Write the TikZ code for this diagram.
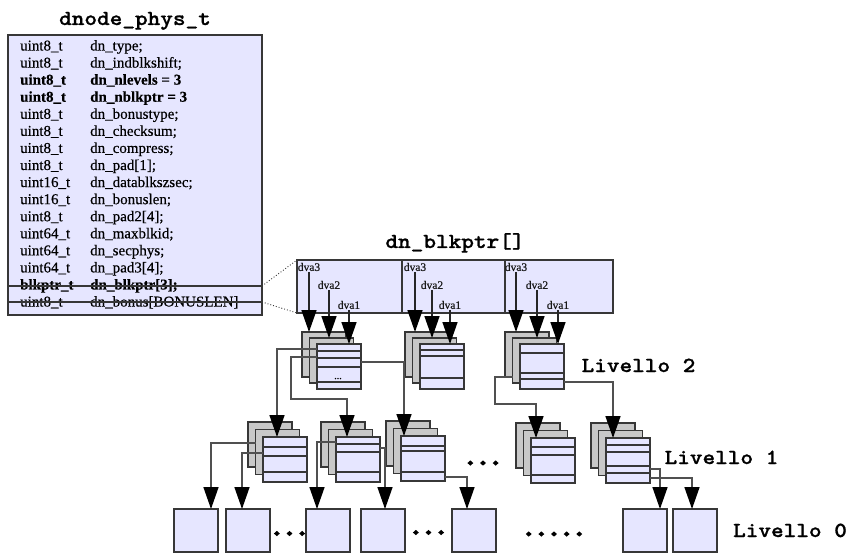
\documentclass[tikz,border=0pt]{standalone}
\usepackage{fontspec}
\setmainfont{Liberation Serif}[FakeBold=0.4]
\newfontfamily\headfont{lmmonolt10-bold.otf}[FakeStretch=1.12, FakeBold=1]
\newfontfamily\dotfont{lmmonolt10-bold.otf}[FakeStretch=1.12, FakeBold=8]
\usetikzlibrary{arrows.meta}

\definecolor{lav}{RGB}{230,230,255}
\definecolor{sheetgr}{RGB}{200,200,200}
\definecolor{edge}{RGB}{55,55,55}
\definecolor{wire}{RGB}{80,80,80}

\tikzset{
  sheetback/.style={draw=edge, fill=sheetgr, line width=1.2pt, minimum width=44pt,
    minimum height=45pt, inner sep=0pt, outer sep=0pt, anchor=north west},
  sheetfront/.style={sheetback, fill=lav},
  leaf/.style={draw=edge, fill=lav, line width=1.2pt, minimum width=44pt,
    minimum height=43pt, inner sep=0pt, outer sep=0pt, anchor=north west},
  cell/.style={draw=edge, fill=lav, line width=1.2pt, minimum height=53pt,
    inner sep=0pt, outer sep=0pt, anchor=north west},
  bigtip/.style={-{Triangle[width=15pt,length=22pt,color=black]}},
  conn/.style={draw=wire, line width=1.5pt, bigtip},
  dvaarrow/.style={draw=black!85, line width=1.5pt, bigtip},
  heading/.style={font=\headfont\fontsize{21.5}{24}\selectfont, inner sep=0pt, anchor=base},
  dotrow/.style={font=\dotfont\fontsize{21.5}{24}\selectfont, inner sep=0pt, anchor=base},
  fieldtxt/.style={font=\fontsize{15}{15}\selectfont, anchor=base west, inner sep=0pt, text=black},
  dvatxt/.style={font=\fontsize{11.5}{12}\selectfont, inner sep=1pt, text=black!90},
  rowline/.style={draw=edge, line width=1.2pt},
  linkline/.style={draw=edge, dotted, line width=0.9pt},
}

% a stack of three sheets: back, middle and front (front gets the plain name)
\newcommand\pstack[4]{%
  \node[sheetback] (#1b) at (#2,#3) {};
  \node[sheetback] (#1m) at ({#2+7.5},{#3+#4}) {};
  \node[sheetfront] (#1) at ({#2+15},{#3+2*#4}) {};
}
% horizontal rules across a front sheet, offsets from its top edge
\newcommand\slines[2]{%
  \foreach \o in {#2}
    \draw[rowline] ([yshift=-\o pt]#1.north west) -- ([yshift=-\o pt]#1.north east);
}
% one field of the structure
\newcommand\fieldrow[4]{%
  \node[fieldtxt] (#4t) at (20,{50.5+(#1-1)*17.07}) {#2};
  \node[fieldtxt] (#4n) at (90,{50.5+(#1-1)*17.07}) {#3};
}

\begin{document}
\begin{tikzpicture}[x=1pt,y=-1pt]
\useasboundingbox (0,0) rectangle (851,553);

% ---------- dnode_phys_t ----------
\node[heading] (ttl) at (135,25) {dnode\_phys\_t};
\node[draw=edge, fill=lav, line width=1.2pt, minimum width=254pt, minimum height=280pt,
      inner sep=0pt, outer sep=0pt, anchor=north west] (dnode) at (8,35) {};
\fieldrow{1}{uint8\_t}{dn\_type;}{f1}
\fieldrow{2}{uint8\_t}{dn\_indblkshift;}{f2}
\fieldrow{3}{\bfseries uint8\_t}{\bfseries dn\_nlevels = 3}{f3}
\fieldrow{4}{\bfseries uint8\_t}{\bfseries dn\_nblkptr = 3}{f4}
\fieldrow{5}{uint8\_t}{dn\_bonustype;}{f5}
\fieldrow{6}{uint8\_t}{dn\_checksum;}{f6}
\fieldrow{7}{uint8\_t}{dn\_compress;}{f7}
\fieldrow{8}{uint8\_t}{dn\_pad[1];}{f8}
\fieldrow{9}{uint16\_t}{dn\_datablkszsec;}{f9}
\fieldrow{10}{uint16\_t}{dn\_bonuslen;}{f10}
\fieldrow{11}{uint8\_t}{dn\_pad2[4];}{f11}
\fieldrow{12}{uint64\_t}{dn\_maxblkid;}{f12}
\fieldrow{13}{uint64\_t}{dn\_secphys;}{f13}
\fieldrow{14}{uint64\_t}{dn\_pad3[4];}{f14}
\fieldrow{15}{\bfseries blkptr\_t}{\bfseries dn\_blkptr[3];}{f15}
\fieldrow{16}{uint8\_t}{dn\_bonus[BONUSLEN]}{f16}
\coordinate (bprow) at (135,286);
\coordinate (bnrow) at (135,302);
\draw[rowline] (dnode.west |- bprow) -- (dnode.east |- bprow);
\draw[rowline] (dnode.west |- bnrow) -- (dnode.east |- bnrow);

% ---------- dn_blkptr[] ----------
\node[heading] (ttl2) at (455,248) {dn\_blkptr[]};
\node[cell, minimum width=105pt] (bp1) at (297,260) {};
\node[cell, minimum width=103pt] (bp2) at (402,260) {};
\node[cell, minimum width=108pt] (bp3) at (505,260) {};
\draw[linkline] (dnode.east |- bprow) -- (bp1.north west);
\draw[linkline] (dnode.east |- bnrow) -- (bp1.south west);

% ---------- level 2 ----------
\pstack{A}{302}{332}{6}
\slines{A}{7,14,23,38}
\node[font=\fontsize{10}{10}\selectfont, inner sep=0pt, anchor=base] (Adots) at (338,379) {...};
\pstack{B}{405}{332}{6}
\slines{B}{6,12,34}
\pstack{C}{505}{332}{6}
\slines{C}{9,29,35}
\node[heading] (lv2) at (638.5,372) {Livello 2};

% dva pointers
\node[dvatxt] (d11) at (309,267) {dva3};
\node[dvatxt] (d12) at (329,285) {dva2};
\node[dvatxt] (d13) at (349,305) {dva1};
\node[dvatxt] (d21) at (415,267) {dva3};
\node[dvatxt] (d22) at (432,285) {dva2};
\node[dvatxt] (d23) at (450,305) {dva1};
\node[dvatxt] (d31) at (516,267) {dva3};
\node[dvatxt] (d32) at (537,285) {dva2};
\node[dvatxt] (d33) at (558,305) {dva1};
\draw[dvaarrow] (d11.south) -- (d11.south |- Ab.north);
\draw[dvaarrow] (d12.south) -- (d12.south |- Am.north);
\draw[dvaarrow] (d13.south) -- (d13.south |- A.north);
\draw[dvaarrow] (d21.south) -- (d21.south |- Bb.north);
\draw[dvaarrow] (d22.south) -- (d22.south |- Bm.north);
\draw[dvaarrow] (d23.south) -- (d23.south |- B.north);
\draw[dvaarrow] (d31.south) -- (d31.south |- Cb.north);
\draw[dvaarrow] (d32.south) -- (d32.south |- Cm.north);
\draw[dvaarrow] (d33.south) -- (d33.south |- C.north);

% ---------- level 1 ----------
\pstack{E1}{248}{422}{7.5}
\slines{E1}{10,19,35}
\pstack{E2}{321}{422}{7.5}
\slines{E2}{7,15,35}
\pstack{E3}{386}{421}{7.5}
\slines{E3}{10,15,36}
\pstack{E4}{516}{423}{7.5}
\slines{E4}{9,17,37}
\pstack{E5}{591}{423}{7.5}
\slines{E5}{7,14,28,35}
\node[dotrow] (dots1) at (483,464.5) {...};
\node[heading] (lv1) at (721.5,464) {Livello 1};

% level 2 -> level 1
\draw[conn] ([yshift=-5pt]A.north west) -| ([xshift=14pt]E1.north west);
\draw[conn] ([yshift=-13pt]A.north west) -| (291,399) -| ([xshift=11pt]E2.north west);
\draw[conn] ([yshift=-18pt]A.north east) -| ([xshift=3pt]E3.north west);
\draw[conn] ([yshift=-39pt]Cm.north west) -| (495,404) -| ([xshift=5pt]E4.north west);
\draw[conn] ([yshift=-38pt]C.north east) -| ([xshift=7pt]E5.north west);

% ---------- level 0 ----------
\node[leaf] (L1) at (174,509) {};
\node[leaf] (L2) at (226,509) {};
\node[leaf] (L3) at (306,509) {};
\node[leaf] (L4) at (361,509) {};
\node[leaf] (L5) at (452,509) {};
\node[leaf] (L6) at (623,509) {};
\node[leaf] (L7) at (673,509) {};
\node[dotrow] (dots2) at (289.5,535) {...};
\node[dotrow] (dots3) at (428.5,534) {...};
\node[dotrow] (dots4) at (554,535.5) {.....};
\node[heading] (lv0) at (790,537) {Livello 0};

% level 1 -> level 0
\draw[conn] ([yshift=-13.5pt]E1m.north west) -| ([xshift=37pt]L1.north west);
\draw[conn] ([yshift=-16pt]E1.north west) -| ([xshift=16pt]L2.north west);
\draw[conn] ([yshift=-5pt]E2.north west) -| ([xshift=11pt]L3.north west);
\draw[conn] ([yshift=-11pt]E2.north east) -| ([xshift=24pt]L4.north west);
\draw[conn] ([yshift=-41pt]E3.north east) -| ([xshift=15pt]L5.north west);
\draw[conn] ([yshift=-31pt]E5.north east) -| ([xshift=37pt]L6.north west);
\draw[conn] ([yshift=-40pt]E5.north east) -| ([xshift=19pt]L7.north west);
\end{tikzpicture}
\end{document}
